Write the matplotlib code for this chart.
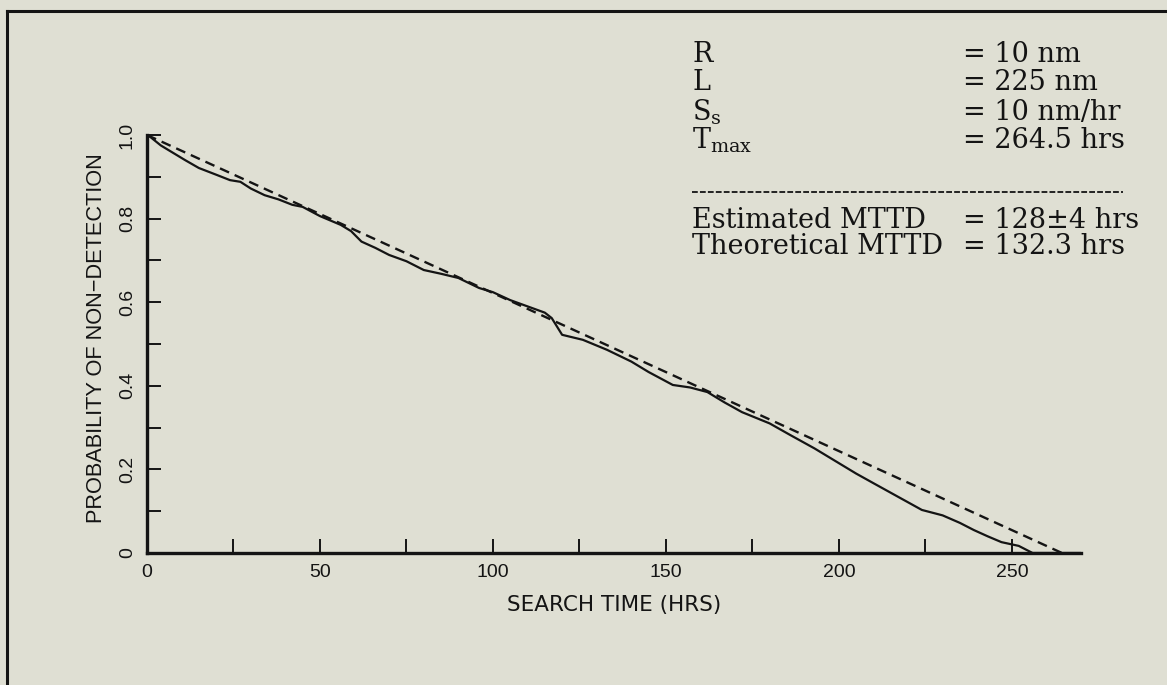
import matplotlib
matplotlib.use("Agg")
import matplotlib.pyplot as plt
from matplotlib.lines import Line2D

# ---- data ----
sim_time = [0, 1, 4, 7, 11, 15, 20, 24, 27, 30, 34, 38, 42, 45, 50, 56, 59,
            62, 66, 70, 75, 80, 85, 90, 96, 100, 105, 110, 115, 117, 120,
            126, 133, 140, 145, 152, 157, 162, 167, 172, 180, 186, 193, 200,
            205, 210, 217, 224, 230, 235, 239, 243, 247, 252, 256, 270]
sim_prob = [1.0, 0.995, 0.975, 0.96, 0.94, 0.921, 0.905, 0.892, 0.888, 0.872,
            0.856, 0.846, 0.833, 0.828, 0.806, 0.785, 0.77, 0.745, 0.73,
            0.713, 0.698, 0.677, 0.668, 0.658, 0.634, 0.624, 0.605, 0.59,
            0.575, 0.562, 0.522, 0.51, 0.486, 0.458, 0.433, 0.402, 0.396,
            0.385, 0.36, 0.337, 0.31, 0.282, 0.25, 0.215, 0.19, 0.167, 0.135,
            0.103, 0.09, 0.072, 0.055, 0.04, 0.026, 0.017, 0.0, 0.0]
theory_time = [0, 264.5]
theory_prob = [1.0, 0.0]

x_ticks = [0, 25, 50, 75, 100, 125, 150, 175, 200, 225, 250]
x_labels = ["0", "", "50", "", "100", "", "150", "", "200", "", "250"]
y_ticks = [0, 0.1, 0.2, 0.3, 0.4, 0.5, 0.6, 0.7, 0.8, 0.9, 1.0]
y_labels = ["0", "", "0.2", "", "0.4", "", "0.6", "", "0.8", "", "1.0"]

param_names = ["R", "L", r"S$_{\mathregular{s}}$", r"T$_{\mathregular{max}}$"]
param_values = ["= 10 nm", "= 225 nm", "= 10 nm/hr", "= 264.5 hrs"]
result_names = ["Estimated MTTD", "Theoretical MTTD"]
result_values = ["= 128\u00b14 hrs", "= 132.3 hrs"]

bg = "#dfdfd3"
ink = "#141414"
W, H = 1167, 685

fig = plt.figure(figsize=(W / 100, H / 100), dpi=100, facecolor=bg)
ax = fig.add_axes([147 / W, 1 - 553 / H, (1081 - 147) / W, (553 - 135) / H])
ax.set_facecolor(bg)

ax.plot(sim_time, sim_prob, color=ink, lw=1.6, solid_joinstyle="round")
ax.plot(theory_time, theory_prob, color=ink, lw=1.7, linestyle=(0, (4.2, 2.6)))

ax.set_xlim(0, 270)
ax.set_ylim(0, 1.0)
for s in ["top", "right"]:
    ax.spines[s].set_visible(False)
for s in ["left", "bottom"]:
    ax.spines[s].set_linewidth(2.4)
    ax.spines[s].set_color(ink)

sans = "Liberation Sans"
ax.set_xticks(x_ticks)
ax.set_xticklabels(x_labels, fontfamily=sans, fontsize=14, color=ink)
ax.set_yticks(y_ticks)
ax.set_yticklabels(y_labels, fontfamily=sans, fontsize=14, color=ink,
                   rotation=90, va="center")
ax.tick_params(axis="x", direction="in", length=10, width=1.4, color=ink, pad=8)
ax.tick_params(axis="y", direction="in", length=10, width=1.4, color=ink, pad=8)

ax.set_xlabel("SEARCH TIME (HRS)", fontfamily="DejaVu Sans", fontsize=15.5,
              color=ink)
ax.xaxis.set_label_coords(0.5, (553 - 605) / 418)
ax.xaxis.label.set_va("center")
ax.set_ylabel("PROBABILITY OF NON\u2212DETECTION", fontfamily=sans,
              fontsize=15.7, color=ink)
ax.yaxis.set_label_coords((97 - 147) / 934, (553 - 338) / 418)
ax.yaxis.label.set_va("center")

# ---- parameter box text ----
serif = "DejaVu Serif"
fs = 19.5
x_left = 692 / W
x_eq = 963 / W
rows_y = [55, 83, 112, 140]
for name, val, yp in zip(param_names, param_values, rows_y):
    fig.text(x_left, 1 - yp / H, name, fontfamily=serif, fontsize=fs,
             color=ink, va="center", ha="left")
    fig.text(x_eq, 1 - yp / H, val, fontfamily=serif, fontsize=fs,
             color=ink, va="center", ha="left")
fig.add_artist(Line2D([692 / W, 1123 / W], [1 - 192 / H, 1 - 192 / H],
                      color=ink, lw=1.3, linestyle=(0, (3.2, 1.2))))
for name, val, yp in zip(result_names, result_values, [220, 247]):
    fig.text(x_left, 1 - yp / H, name, fontfamily=serif, fontsize=fs,
             color=ink, va="center", ha="left")
    fig.text(x_eq, 1 - yp / H, val, fontfamily=serif, fontsize=fs,
             color=ink, va="center", ha="left")

# ---- page frame (left and top edges) ----
fig.add_artist(Line2D([7 / W, 7 / W], [0, 1 - 11 / H], color=ink, lw=2.2))
fig.add_artist(Line2D([7 / W, 1], [1 - 11 / H, 1 - 11 / H], color=ink, lw=2.2))

fig.savefig("out.png", dpi=100, facecolor=bg)
